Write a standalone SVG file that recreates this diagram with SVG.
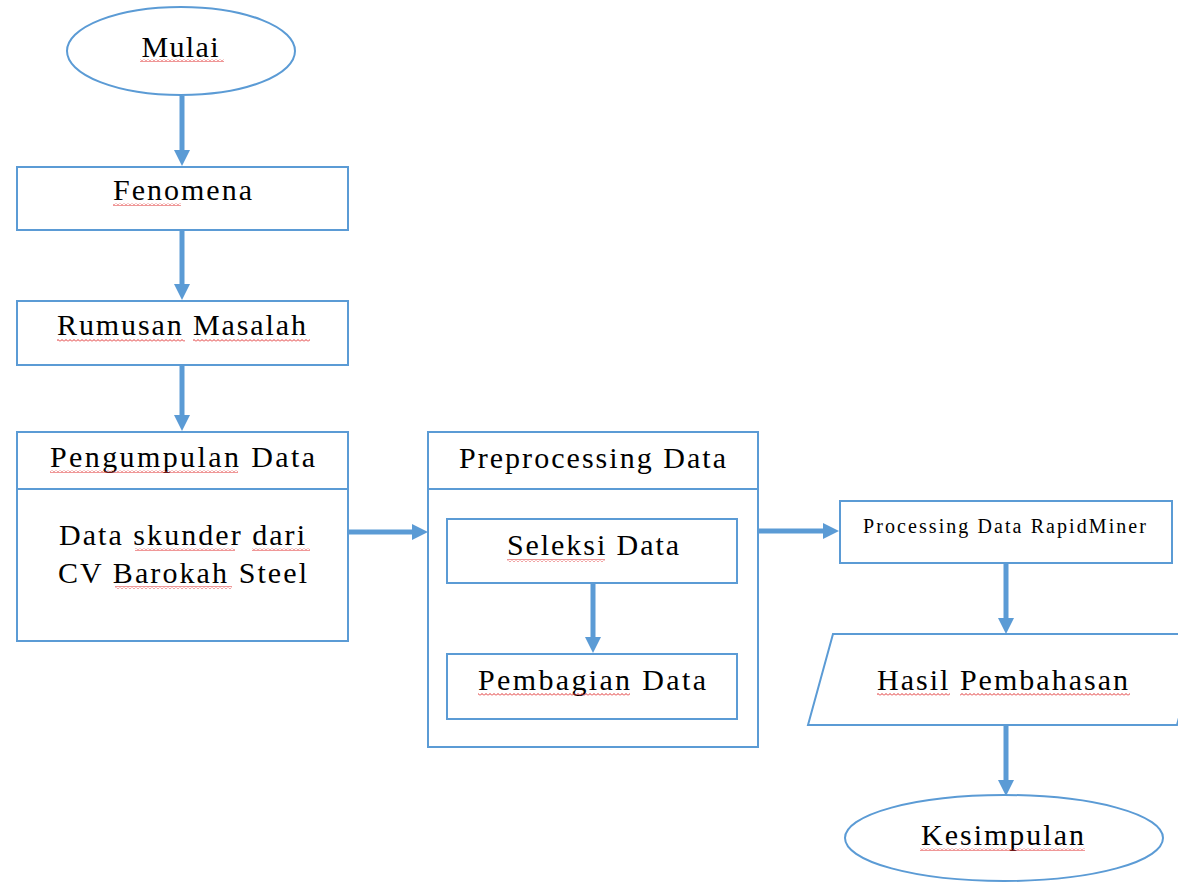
<svg xmlns="http://www.w3.org/2000/svg" width="1178" height="883" viewBox="0 0 1178 883">
<style>
.shape{fill:#fff;stroke:#5B9BD5;stroke-width:2}
.conn{stroke:#5B9BD5;stroke-width:5;fill:none;marker-end:url(#ah)}
.t{font-family:"Liberation Serif","Times New Roman",serif;font-size:30px;fill:#000;text-anchor:middle}
.ts{font-family:"Liberation Serif","Times New Roman",serif;font-size:20px;fill:#000;text-anchor:middle}
.sq{fill:url(#wave)}
</style>
<defs>
<marker id="ah" markerUnits="userSpaceOnUse" markerWidth="16" markerHeight="16" viewBox="0 0 16 16" refX="6" refY="8" orient="auto">
<path d="M0,0 L16,8 L0,16 z" fill="#5B9BD5"/>
</marker>
<pattern id="wave" width="4" height="3" patternUnits="userSpaceOnUse">
<path d="M0,2.5 L2,0.5 L4,2.5" stroke="#E03030" stroke-width="1" fill="none"/>
</pattern>
</defs>
<rect width="1178" height="883" fill="#fff"/>

<g id="mulai">
<ellipse class="shape" cx="181" cy="51" rx="114" ry="44"/>
<text class="t" x="180" y="57" textLength="77" lengthAdjust="spacing">Mulai</text>
<rect class="sq" x="140" y="59" width="84" height="3"/>
</g>

<g id="fenomena">
<rect class="shape" x="17" y="167" width="331" height="63"/>
<text class="t" x="182.5" y="200" textLength="139" lengthAdjust="spacing">Fenomena</text>
<rect class="sq" x="113" y="203" width="68" height="3"/>
</g>

<g id="rumusan">
<rect class="shape" x="17" y="301" width="331" height="64"/>
<text class="t" x="181.5" y="335" textLength="249" lengthAdjust="spacing">Rumusan Masalah</text>
<rect class="sq" x="57" y="339" width="128" height="3"/>
<rect class="sq" x="193" y="339" width="117" height="3"/>
</g>

<g id="pengumpulan">
<rect class="shape" x="17" y="432" width="331" height="209"/>
<line class="shape" x1="17" y1="489" x2="348" y2="489"/>
<text class="t" x="182.5" y="467" textLength="265" lengthAdjust="spacing">Pengumpulan Data</text>
<rect class="sq" x="50" y="470" width="188" height="3"/>
<text class="t" x="182" y="545" textLength="246" lengthAdjust="spacing">Data skunder dari</text>
<rect class="sq" x="135" y="548" width="100" height="3"/>
<rect class="sq" x="252" y="548" width="58" height="3"/>
<text class="t" x="182.5" y="583" textLength="249" lengthAdjust="spacing">CV Barokah Steel</text>
<rect class="sq" x="115" y="586" width="117" height="3"/>
</g>

<g id="preprocessing">
<rect class="shape" x="428" y="432" width="330" height="315"/>
<line class="shape" x1="428" y1="489" x2="758" y2="489"/>
<text class="t" x="592.5" y="468" textLength="267" lengthAdjust="spacing">Preprocessing Data</text>
</g>

<g id="seleksi">
<rect class="shape" x="447" y="519" width="290" height="64"/>
<text class="t" x="593" y="555" textLength="172" lengthAdjust="spacing">Seleksi Data</text>
<rect class="sq" x="507" y="559" width="98" height="3"/>
</g>

<g id="pembagian">
<rect class="shape" x="447" y="654" width="290" height="65"/>
<text class="t" x="592" y="690" textLength="228" lengthAdjust="spacing">Pembagian Data</text>
<rect class="sq" x="478" y="693" width="152" height="3"/>
</g>

<g id="processing">
<rect class="shape" x="840" y="501" width="332" height="62"/>
<text class="ts" x="1004.5" y="533" textLength="283" lengthAdjust="spacing">Processing Data RapidMiner</text>
</g>

<g id="hasil">
<polygon class="shape" points="833,634 1202,634 1177,725 808,725"/>
<text class="t" x="1002.5" y="690" textLength="251" lengthAdjust="spacing">Hasil Pembahasan</text>
<rect class="sq" x="877" y="693" width="73" height="3"/>
<rect class="sq" x="960" y="693" width="170" height="3"/>
</g>

<g id="kesimpulan">
<ellipse class="shape" cx="1004" cy="838" rx="159" ry="43"/>
<text class="t" x="1002.5" y="845" textLength="163" lengthAdjust="spacing">Kesimpulan</text>
<rect class="sq" x="920" y="848" width="165" height="3"/>
</g>

<g id="connectors">
<line class="conn" x1="182" y1="96" x2="182" y2="156"/>
<line class="conn" x1="182" y1="231" x2="182" y2="290"/>
<line class="conn" x1="182" y1="366" x2="182" y2="421"/>
<line class="conn" x1="349" y1="532" x2="418" y2="532"/>
<line class="conn" x1="593" y1="584" x2="593" y2="643"/>
<line class="conn" x1="759" y1="531" x2="829" y2="531"/>
<line class="conn" x1="1006" y1="564" x2="1006" y2="624"/>
<line class="conn" x1="1006" y1="726" x2="1006" y2="786"/>
</g>
</svg>
